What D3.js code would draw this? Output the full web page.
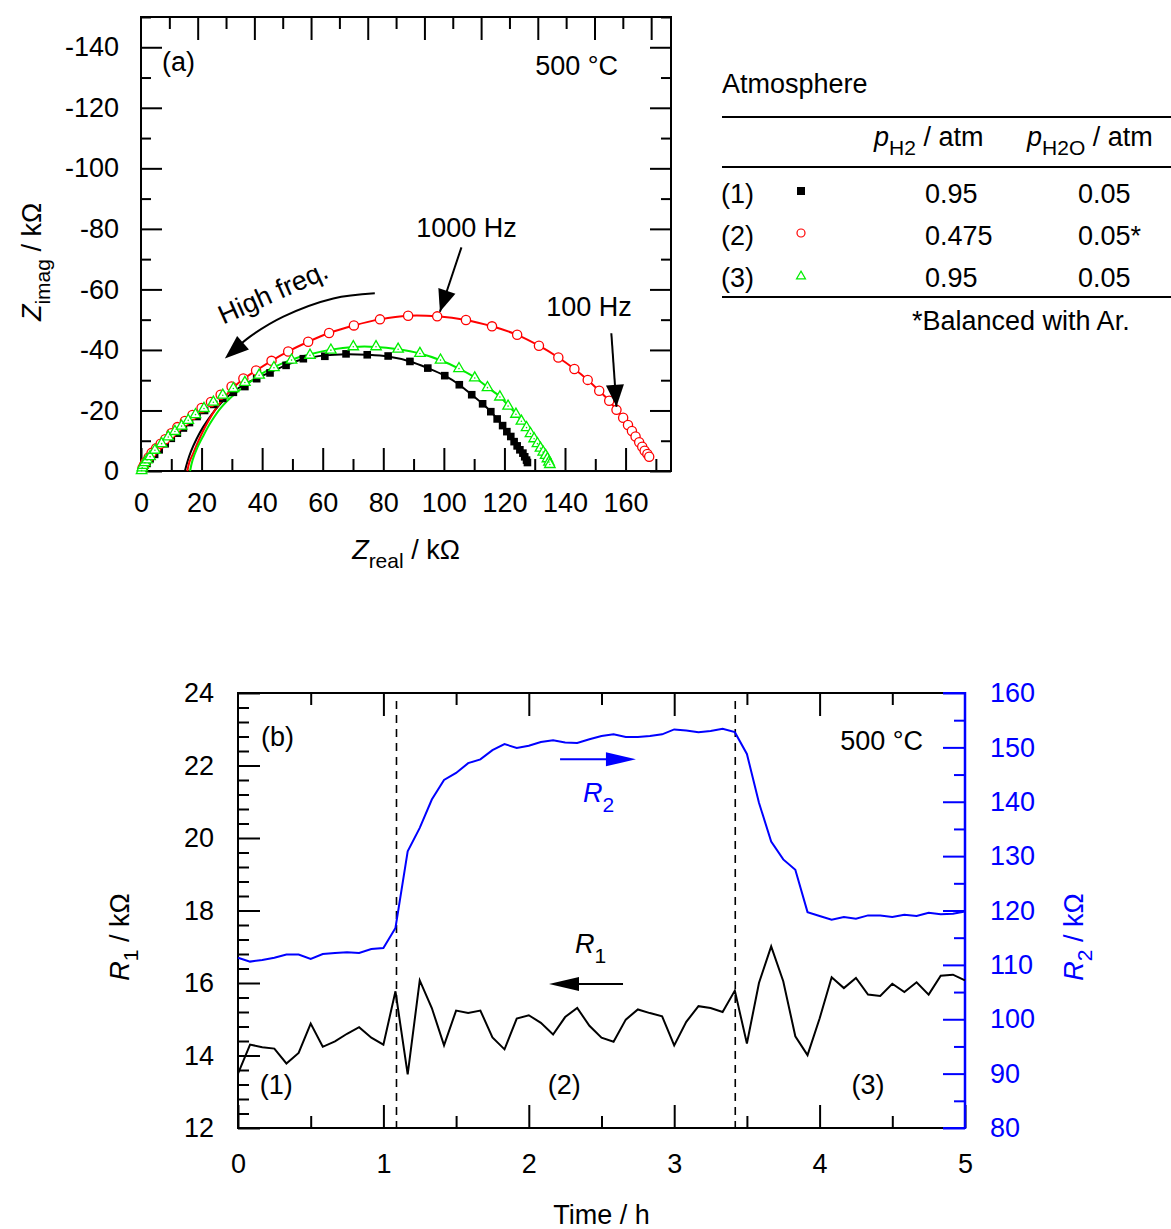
<!DOCTYPE html>
<html><head><meta charset="utf-8">
<script src="https://cdn.jsdelivr.net/npm/d3@7/dist/d3.min.js"></script>
<style>
body{margin:0;background:#fff;}
svg{display:block;font-family:"Liberation Sans",Arial,sans-serif;}
</style></head><body>
<svg id="c" width="1171" height="1229"></svg>
<script>
// ---------- Panel (a) data: Nyquist plot (Z_real kΩ, Z_imag kΩ) ----------
const sq1 = [[1,-1.2],[2,-2.5],[3,-4],[4.5,-5.5],[6,-7],[8,-9],[10,-10.8],[12,-12.5],[14,-14.2],[16,-16],[18.5,-18],[21,-20],[24,-22],[27,-24],[30.5,-26],[34.3,-27.9],[38.2,-30.5],[42.6,-32.4],[47.9,-34.9],[53.6,-37.1],[60.7,-37.9],[67.7,-38.7],[74.7,-38.4],[81.6,-38.0],[88.8,-36.2],[94.7,-34.0],[100.3,-31.5],[105.1,-28.5],[109.2,-25.2],[112.8,-22.2],[115.5,-19.6],[117.6,-17.2],[119.4,-15.0],[120.8,-13.0],[122.1,-11.4],[123.2,-9.7],[124.2,-8.3],[125.1,-7.0],[126.1,-5.9],[126.7,-4.7],[127.3,-3.6],[127.6,-2.8]];
const circ2 = [[0.5,-1],[1,-2],[1.5,-3],[2.5,-4.5],[3.5,-6],[5,-7.5],[6.5,-9],[8,-10.5],[10,-12.5],[12,-14.5],[14.5,-16.5],[17,-18.5],[20,-20.8],[23.1,-22.8],[26.3,-25.2],[29.9,-27.9],[33.8,-30.6],[38.0,-33.2],[43.1,-36.4],[48.6,-39.5],[55.2,-42.7],[62.1,-45.6],[70.3,-48.1],[78.9,-50.1],[88.2,-51.3],[97.8,-51.1],[107.3,-49.9],[115.9,-47.8],[124.2,-45.0],[131.4,-41.4],[137.8,-37.5],[143.1,-33.7],[147.5,-30.1],[151.3,-26.5],[154.6,-23.2],[157.0,-20.2],[159.2,-17.6],[160.8,-15.2],[162.1,-13.2],[163.3,-11.4],[164.5,-9.5],[165.5,-8.0],[166.3,-6.7],[167.2,-5.6],[167.8,-4.7]];
const tri3 = [[0.2,-0.3],[0.4,-1.2],[0.7,-2.0],[1.3,-2.9],[2.0,-3.8],[3.0,-4.9],[4.6,-7.0],[6.8,-9.2],[9.0,-11.4],[11.2,-13.2],[13.4,-15.0],[15.6,-16.9],[18.0,-18.8],[20.8,-20.8],[23.9,-22.9],[27.0,-25.2],[30.5,-27.4],[34.3,-29.4],[39.0,-31.8],[43.9,-34.3],[49.7,-36.8],[55.8,-38.4],[62.7,-40.1],[70.1,-41.2],[77.6,-41.2],[84.9,-40.4],[92.1,-39.0],[98.9,-36.8],[105.0,-34.0],[110.2,-30.9],[114.4,-27.7],[118.5,-24.6],[121.2,-21.6],[123.8,-18.9],[125.6,-16.6],[127.3,-14.5],[128.6,-12.5],[129.8,-10.8],[130.9,-9.2],[131.9,-7.7],[132.8,-6.4],[133.6,-5.3],[134.2,-4.2],[134.7,-3.1],[135.0,-2.3]];
const fit1 = [[14.5,0],[15.3,-3],[16.5,-6.5],[18.3,-10.5],[20.5,-14.5],[23.2,-18.5],[26.5,-22.5],[30.5,-26.2],[34.5,-28.8],[38.5,-30.8],[42.6,-32.6],[47.9,-35],[53.6,-37],[60.7,-38.2],[67.7,-38.6],[74.7,-38.4],[81.6,-37.8],[88.8,-36.2],[94.7,-34.0],[100.3,-31.5],[105.1,-28.5],[109.2,-25.2],[112.8,-22.2],[115.5,-19.6],[117.6,-17.2],[119.4,-15.0],[120.8,-13.0],[122.1,-11.4],[123.2,-9.7],[124.2,-8.3],[125.1,-7.0],[126.1,-5.9],[126.7,-4.7],[127.3,-3.6],[127.6,-2.8]];
const fit2 = [[15.3,0],[16,-3],[17.3,-6],[19,-10],[21.7,-15.5],[25,-21],[28.5,-25.5],[33,-29.8],[38.0,-33.2],[43.1,-36.4],[48.6,-39.5],[55.2,-42.7],[62.1,-45.6],[70.3,-48.1],[78.9,-50.1],[88.2,-51.3],[97.8,-51.1],[107.3,-49.9],[115.9,-47.8],[124.2,-45.0],[131.4,-41.4],[137.8,-37.5],[143.1,-33.7],[147.5,-30.1],[151.3,-26.5],[154.6,-23.2],[157.0,-20.2],[159.2,-17.6],[160.8,-15.2],[162.1,-13.2],[163.3,-11.4],[164.5,-9.5],[165.5,-8.0],[166.3,-6.7],[167.2,-5.6],[167.8,-4.7]];
const fit3 = [[16.2,0],[17,-3.5],[18.5,-7.5],[20.5,-11.5],[23,-16],[26.5,-21],[30.5,-25],[34.5,-28.2],[39.0,-31.6],[43.9,-34.3],[49.7,-36.8],[55.8,-38.6],[62.7,-40.1],[70.1,-41.0],[77.6,-41.0],[84.9,-40.2],[92.1,-38.8],[98.9,-36.6],[105.0,-33.8],[110.2,-30.9],[114.4,-27.7],[118.5,-24.6],[121.2,-21.6],[123.8,-18.9],[125.6,-16.6],[127.3,-14.5],[128.6,-12.5],[129.8,-10.8],[130.9,-9.2],[131.9,-7.7],[132.8,-6.4],[133.6,-5.3],[134.2,-4.2],[134.7,-3.1],[135.0,-2.3]];

const xTicksA = [0,20,40,60,80,100,120,140,160];
const yTicksA = [0,-20,-40,-60,-80,-100,-120,-140];

// ---------- Table ----------
const rowLabels = ["(1)","(2)","(3)"];
const pH2 = ["0.95","0.475","0.95"];
const pH2O = ["0.05","0.05*","0.05"];

// ---------- Panel (b) data ----------
const timeH = [0,0.083,0.167,0.25,0.333,0.417,0.5,0.583,0.667,0.75,0.833,0.917,1,1.083,1.167,1.25,1.333,1.417,1.5,1.583,1.667,1.75,1.833,1.917,2,2.083,2.167,2.25,2.333,2.417,2.5,2.583,2.667,2.75,2.833,2.917,3,3.083,3.167,3.25,3.333,3.417,3.5,3.583,3.667,3.75,3.833,3.917,4,4.083,4.167,4.25,4.333,4.417,4.5,4.583,4.667,4.75,4.833,4.917,5];
const R1 = [13.5,14.3,14.23,14.19,13.78,14.07,14.88,14.24,14.39,14.6,14.78,14.49,14.3,15.77,13.48,16.07,15.31,14.28,15.24,15.17,15.24,14.5,14.17,15.02,15.11,14.9,14.58,15.06,15.31,14.82,14.49,14.38,14.99,15.27,15.17,15.08,14.28,14.93,15.36,15.31,15.2,15.79,14.33,16.0,17.01,16.05,14.53,14.01,15.02,16.16,15.86,16.14,15.68,15.64,15.98,15.75,16.02,15.68,16.2,16.23,16.07];
const R2 = [111.3,110.6,110.9,111.3,111.9,111.9,111.1,112.0,112.2,112.3,112.2,112.9,113.1,116.8,130.9,135.2,140.4,144.0,145.3,147.1,147.8,149.5,150.6,149.9,150.3,151.0,151.3,150.9,150.8,151.5,152.1,152.4,151.9,151.9,152.1,152.4,153.3,153.1,152.8,153.0,153.4,152.8,148.8,139.8,132.7,129.4,127.5,119.7,119.0,118.3,118.8,118.5,119.1,119.1,118.8,119.2,119.0,119.6,119.3,119.4,119.8];
const switchTimes = [1.09, 3.42];
const regionLabels = [["(1)",0.15],["(2)",2.13],["(3)",4.22]];
const xTicksB = [0,1,2,3,4,5];
const yTicksL = [12,14,16,18,20,22,24];
const yTicksR = [80,90,100,110,120,130,140,150,160];

const svg = d3.select("#c");
const FONT = 27, SUB = 21;
const BLUE = "#0000ff", RED = "#ff0000", GREEN = "#00ee00";

function drawAxis(g, axisFn, scale, vals, size, labels, pad, color){
  const ax = axisFn(scale).tickValues(vals).tickSize(-size).tickPadding(pad);
  ax.tickFormat(labels ? (d=>String(d)) : "");
  const a = g.append("g").call(ax);
  a.select(".domain").remove();
  a.selectAll("line").attr("stroke", color).attr("stroke-width", 2);
  a.selectAll("text").attr("font-size", FONT).attr("fill", color).attr("font-family","Liberation Sans, Arial, sans-serif");
  return a;
}
function range(a,b,s){const r=[];for(let v=a;v<=b+1e-9;v+=s)r.push(+v.toFixed(4));return r;}
function arrowHead(g, x1,y1,x2,y2,len,hw,color){
  const a=Math.atan2(y2-y1,x2-x1);
  const bx=x2-len*Math.cos(a), by=y2-len*Math.sin(a);
  const px=-Math.sin(a)*hw, py=Math.cos(a)*hw;
  g.append("path").attr("d",`M${x2},${y2}L${bx+px},${by+py}L${bx-px},${by-py}Z`).attr("fill",color);
}

// ================= Panel (a) =================
const A = {l:141,r:671,t:17,b:471};
const xA = d3.scaleLinear([0,175],[A.l,A.r]);
const xAtop = d3.scaleLinear([0,187],[A.l,A.r]);
const yA = d3.scaleLinear([0,-150],[A.b,A.t]);
const gA = svg.append("g");

let gb = gA.append("g").attr("transform",`translate(0,${A.b})`);
drawAxis(gb, d3.axisBottom, xA, xTicksA, 23, true, 22, "#000");
drawAxis(gb, d3.axisBottom, xA, range(10,170,20), 12, false, 0, "#000");
let gt = gA.append("g").attr("transform",`translate(0,${A.t})`);
drawAxis(gt, d3.axisTop, xAtop, range(20,180,20), 23, false, 0, "#000");
drawAxis(gt, d3.axisTop, xAtop, range(10,170,20), 12, false, 0, "#000");
let gl = gA.append("g").attr("transform",`translate(${A.l},0)`);
drawAxis(gl, d3.axisLeft, yA, yTicksA, 21, true, 22, "#000");
drawAxis(gl, d3.axisLeft, yA, range(-150,-10,20), 10, false, 0, "#000");
let gr = gA.append("g").attr("transform",`translate(${A.r},0)`);
drawAxis(gr, d3.axisRight, yA, yTicksA, 21, false, 0, "#000");
drawAxis(gr, d3.axisRight, yA, range(-150,-10,20), 10, false, 0, "#000");
gA.append("rect").attr("x",A.l).attr("y",A.t).attr("width",A.r-A.l).attr("height",A.b-A.t)
  .attr("fill","none").attr("stroke","#000").attr("stroke-width",2);

const lineA = d3.line().x(d=>xA(d[0])).y(d=>yA(d[1])).curve(d3.curveCatmullRom);
gA.append("path").datum(fit1).attr("d",lineA).attr("fill","none").attr("stroke","#000").attr("stroke-width",2);
gA.append("path").datum(fit2).attr("d",lineA).attr("fill","none").attr("stroke",RED).attr("stroke-width",2);
gA.append("path").datum(fit3).attr("d",lineA).attr("fill","none").attr("stroke",GREEN).attr("stroke-width",2);

gA.append("g").selectAll("rect").data(sq1).join("rect")
  .attr("x",d=>xA(d[0])-3.8).attr("y",d=>yA(d[1])-3.8).attr("width",7.6).attr("height",7.6).attr("fill","#000");
gA.append("g").selectAll("circle").data(circ2).join("circle")
  .attr("cx",d=>xA(d[0])).attr("cy",d=>yA(d[1])).attr("r",4.6).attr("fill","#fff").attr("stroke",RED).attr("stroke-width",1.3);
const triPath = (cx,cy,s)=>{const h=s*0.866;return `M${cx},${cy-h*0.62}L${cx+s/2},${cy+h*0.38}L${cx-s/2},${cy+h*0.38}Z`;};
const gTri = gA.append("g");
gTri.selectAll("path").data(tri3).join("path")
  .attr("d",d=>triPath(xA(d[0]),yA(d[1]),10.5)).attr("fill","#fff").attr("stroke",GREEN).attr("stroke-width",1.3);
gTri.selectAll("circle").data(tri3).join("circle")
  .attr("cx",d=>xA(d[0])).attr("cy",d=>yA(d[1])+0.5).attr("r",0.8).attr("fill",GREEN);

// annotations panel (a)
gA.append("text").attr("x",A.l+21).attr("y",A.t+54).attr("font-size",FONT).text("(a)");
gA.append("text").attr("x",A.r-53).attr("y",A.t+58).attr("font-size",FONT).attr("text-anchor","end").text("500 °C");
gA.append("text").attr("x",xA(107.5)).attr("y",yA(-77.3)).attr("font-size",FONT).attr("text-anchor","middle").text("1000 Hz");
gA.append("line").attr("x1",xA(105.8)).attr("y1",yA(-73.9)).attr("x2",xA(98.7)).attr("y2",yA(-52.6)).attr("stroke","#000").attr("stroke-width",2);
arrowHead(gA,xA(105.8),yA(-73.9),xA(98.7),yA(-52.6),22,9,"#000");
gA.append("text").attr("x",xA(147.9)).attr("y",yA(-51.2)).attr("font-size",FONT).attr("text-anchor","middle").text("100 Hz");
gA.append("line").attr("x1",xA(155.3)).attr("y1",yA(-45.5)).attr("x2",xA(157.0)).attr("y2",yA(-21.2)).attr("stroke","#000").attr("stroke-width",2);
arrowHead(gA,xA(155.3),yA(-45.5),xA(157.0),yA(-21.2),22,9,"#000");
const hfCurve = [[77.2,-58.7],[63.5,-57.0],[47.0,-51.0],[36.0,-44.4],[31.0,-40.2]];
gA.append("path").datum(hfCurve)
  .attr("d",d3.line().x(d=>xA(d[0])).y(d=>yA(d[1])).curve(d3.curveCatmullRom))
  .attr("fill","none").attr("stroke","#000").attr("stroke-width",2);
arrowHead(gA,xA(36.0),yA(-44.4),xA(27.7),yA(-37.2),24,9,"#000");
gA.append("text").attr("transform",`translate(${xA(44.8)},${yA(-59.2)+9}) rotate(-24)`)
  .attr("font-size",FONT).attr("text-anchor","middle").text("High freq.");

const tz = gA.append("text").attr("x",(A.l+A.r)/2).attr("y",559).attr("font-size",FONT).attr("text-anchor","middle");
tz.append("tspan").attr("font-style","italic").text("Z");
tz.append("tspan").attr("font-size",SUB).attr("dy",9).text("real");
tz.append("tspan").attr("dy",-9).text(" / kΩ");
const tzi = gA.append("text").attr("transform","translate(41,262) rotate(-90)").attr("font-size",FONT).attr("text-anchor","middle");
tzi.append("tspan").attr("font-style","italic").text("Z");
tzi.append("tspan").attr("font-size",SUB).attr("dy",9).text("imag");
tzi.append("tspan").attr("dy",-9).text(" / kΩ");

// ================= Table =================
const gT = svg.append("g");
gT.append("text").attr("x",722).attr("y",93).attr("font-size",FONT).text("Atmosphere");
[117,167,297].forEach(y=>gT.append("line").attr("x1",722).attr("x2",1171).attr("y1",y).attr("y2",y).attr("stroke","#000").attr("stroke-width",2));
function hdr(x, sub){
  const t=gT.append("text").attr("x",x).attr("y",146).attr("font-size",FONT);
  t.append("tspan").attr("font-style","italic").text("p");
  t.append("tspan").attr("font-size",SUB).attr("dy",9).text(sub);
  t.append("tspan").attr("dy",-9).text(" / atm");
}
hdr(874,"H2"); hdr(1027,"H2O");
const rowY = [203,245,287];
rowLabels.forEach((r,i)=>{
  gT.append("text").attr("x",721).attr("y",rowY[i]).attr("font-size",FONT).text(r);
  gT.append("text").attr("x",925).attr("y",rowY[i]).attr("font-size",FONT).text(pH2[i]);
  gT.append("text").attr("x",1078).attr("y",rowY[i]).attr("font-size",FONT).text(pH2O[i]);
});
gT.append("rect").attr("x",797).attr("y",rowY[0]-16).attr("width",8).attr("height",8).attr("fill","#000");
gT.append("circle").attr("cx",801).attr("cy",rowY[1]-12).attr("r",4).attr("fill","#fff").attr("stroke",RED).attr("stroke-width",1.2);
gT.append("path").attr("d",triPath(801,rowY[2]-11,9)).attr("fill","#fff").attr("stroke",GREEN).attr("stroke-width",1.2);
gT.append("text").attr("x",912).attr("y",330).attr("font-size",FONT).text("*Balanced with Ar.");

// ================= Panel (b) =================
const B = {l:238,r:965,t:693,b:1128};
const xB = d3.scaleLinear([0,5],[B.l,B.r]);
const yL = d3.scaleLinear([12,24],[B.b,B.t]);
const yR = d3.scaleLinear([80,160],[B.b,B.t]);
const gB = svg.append("g");

let bb = gB.append("g").attr("transform",`translate(0,${B.b})`);
drawAxis(bb, d3.axisBottom, xB, xTicksB, 23, true, 26, "#000");
drawAxis(bb, d3.axisBottom, xB, [0.5,1.5,2.5,3.5,4.5], 12, false, 0, "#000");
let bt = gB.append("g").attr("transform",`translate(0,${B.t})`);
drawAxis(bt, d3.axisTop, xB, [1,2,3,4], 23, false, 0, "#000");
drawAxis(bt, d3.axisTop, xB, [0.5,1.5,2.5,3.5,4.5], 12, false, 0, "#000");
let bl = gB.append("g").attr("transform",`translate(${B.l},0)`);
drawAxis(bl, d3.axisLeft, yL, yTicksL, 22, true, 24, "#000");
drawAxis(bl, d3.axisLeft, yL, range(12,24,0.4).filter(v=>Math.abs(v/2-Math.round(v/2))>0.01), 11, false, 0, "#000");
let br = gB.append("g").attr("transform",`translate(${B.r},0)`);
drawAxis(br, d3.axisRight, yR, yTicksR, 22, true, 25, BLUE);
drawAxis(br, d3.axisRight, yR, range(85,155,10), 11, false, 0, BLUE);

gB.append("path").attr("d",`M${B.r},${B.t}H${B.l}V${B.b}H${B.r}`).attr("fill","none").attr("stroke","#000").attr("stroke-width",2);
gB.append("line").attr("x1",B.r).attr("x2",B.r).attr("y1",B.t-1).attr("y2",B.b+1).attr("stroke",BLUE).attr("stroke-width",2.5);
gB.append("line").attr("x1",B.r-22).attr("x2",B.r+1).attr("y1",B.t).attr("y2",B.t).attr("stroke",BLUE).attr("stroke-width",2);
gB.append("line").attr("x1",B.r-22).attr("x2",B.r+1).attr("y1",B.b).attr("y2",B.b).attr("stroke",BLUE).attr("stroke-width",2);

switchTimes.forEach(t=>gB.append("line").attr("x1",xB(t)).attr("x2",xB(t)).attr("y1",B.t+8).attr("y2",B.b)
  .attr("stroke","#000").attr("stroke-width",1.6).attr("stroke-dasharray","8,6"));

gB.append("path").datum(timeH.map((t,i)=>[t,R2[i]]))
  .attr("d",d3.line().x(d=>xB(d[0])).y(d=>yR(d[1]))).attr("fill","none").attr("stroke",BLUE).attr("stroke-width",2);
gB.append("path").datum(timeH.map((t,i)=>[t,R1[i]]))
  .attr("d",d3.line().x(d=>xB(d[0])).y(d=>yL(d[1]))).attr("fill","none").attr("stroke","#000").attr("stroke-width",2);

gB.append("line").attr("x1",xB(2.215)).attr("x2",xB(2.55)).attr("y1",yR(147.8)).attr("y2",yR(147.8)).attr("stroke",BLUE).attr("stroke-width",2);
arrowHead(gB,xB(2.215),yR(147.8),xB(2.737),yR(147.8),30,7,BLUE);
gB.append("line").attr("x1",xB(2.648)).attr("x2",xB(2.3)).attr("y1",yL(15.97)).attr("y2",yL(15.97)).attr("stroke","#000").attr("stroke-width",2);
arrowHead(gB,xB(2.648),yL(15.97),xB(2.139),yL(15.97),30,7,"#000");
const r2t = gB.append("text").attr("x",xB(2.373)).attr("y",yR(139.9)).attr("font-size",FONT).attr("fill",BLUE);
r2t.append("tspan").attr("font-style","italic").text("R");
r2t.append("tspan").attr("font-size",SUB).attr("dy",10).text("2");
const r1t = gB.append("text").attr("x",xB(2.318)).attr("y",yL(16.83)).attr("font-size",FONT).attr("fill","#000");
r1t.append("tspan").attr("font-style","italic").text("R");
r1t.append("tspan").attr("font-size",SUB).attr("dy",10).text("1");

regionLabels.forEach(([s,t])=>gB.append("text").attr("x",xB(t)).attr("y",1094).attr("font-size",FONT).text(s));
gB.append("text").attr("x",B.l+23).attr("y",746).attr("font-size",FONT).text("(b)");
gB.append("text").attr("x",B.r-42).attr("y",750).attr("font-size",FONT).attr("text-anchor","end").text("500 °C");

gB.append("text").attr("x",(B.l+B.r)/2).attr("y",1224).attr("font-size",FONT).attr("text-anchor","middle").text("Time / h");
const tl = gB.append("text").attr("transform","translate(129,937) rotate(-90)").attr("font-size",FONT).attr("text-anchor","middle");
tl.append("tspan").attr("font-style","italic").text("R");
tl.append("tspan").attr("font-size",SUB).attr("dy",9).text("1");
tl.append("tspan").attr("dy",-9).text(" / kΩ");
const trr = gB.append("text").attr("transform","translate(1083,937) rotate(-90)").attr("font-size",FONT).attr("text-anchor","middle").attr("fill",BLUE);
trr.append("tspan").attr("font-style","italic").text("R");
trr.append("tspan").attr("font-size",SUB).attr("dy",9).text("2");
trr.append("tspan").attr("dy",-9).text(" / kΩ");
</script></body></html>
